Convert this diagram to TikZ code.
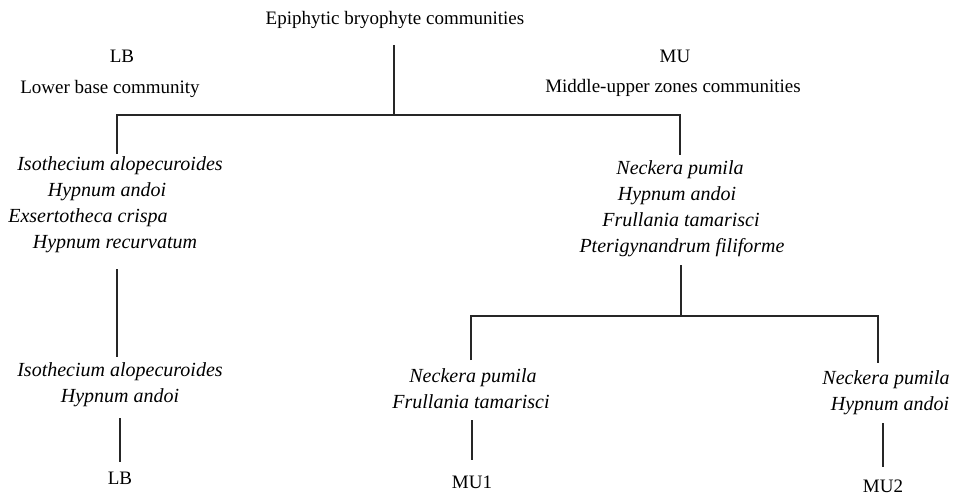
\documentclass[tikz,border=0pt]{standalone}
\usepackage{fontspec}
\setmainfont{Liberation Serif}
\begin{document}
\begin{tikzpicture}[x=1pt,y=-1pt,
  lbl/.style={inner sep=0pt,font=\fontsize{19}{23}\selectfont,text height=13pt,text depth=4pt},
  sp/.style={lbl,font=\fontsize{20}{24}\selectfont\itshape},
  conn/.style={line width=1.1pt,black!85}]
\useasboundingbox (0,0) rectangle (954,495);
% labels
\node[lbl] (root) at (395,20) {Epiphytic bryophyte communities};
\node[lbl] (lb) at (122,58) {LB};
\node[lbl] (lbname) at (110,89) {Lower base community};
\node[lbl] (mu) at (675,58) {MU};
\node[lbl] (muname) at (673,88) {Middle-upper zones communities};
% left list
\node[sp] (l1) at (120,166) {Isothecium alopecuroides};
\node[sp] (l2) at (107,192) {Hypnum andoi};
\node[sp] (l3) at (88,218) {Exsertotheca crispa};
\node[sp] (l4) at (115,244) {Hypnum recurvatum};
\node[sp] (ll1) at (120,372) {Isothecium alopecuroides};
\node[sp] (ll2) at (120,398) {Hypnum andoi};
\node[lbl] (lbend) at (120,480) {LB};
% right list
\node[sp] (r1) at (680,170) {Neckera pumila};
\node[sp] (r2) at (677,196) {Hypnum andoi};
\node[sp] (r3) at (681,222) {Frullania tamarisci};
\node[sp] (r4) at (682,248) {Pterigynandrum filiforme};
\node[sp] (a1) at (473,378) {Neckera pumila};
\node[sp] (a2) at (471,404) {Frullania tamarisci};
\node[lbl] (mu1) at (472,484) {MU1};
\node[sp] (b1) at (886,380) {Neckera pumila};
\node[sp] (b2) at (890,406) {Hypnum andoi};
\node[lbl] (mu2) at (883,488) {MU2};
% connector ends
\coordinate (rootb) at (394,45);
\coordinate (j0) at (394,115);
\coordinate (lt) at (117,154);
\coordinate (rt) at (680,155);
\coordinate (lb1) at (117,269);
\coordinate (lt2) at (117,357);
\coordinate (lb2) at (120,418);
\coordinate (lt3) at (120,462);
\coordinate (rb1) at (681,265);
\coordinate (j1) at (681,316);
\coordinate (at) at (471,360);
\coordinate (bt) at (878,363);
\coordinate (ab) at (472,420);
\coordinate (mu1t) at (472,460);
\coordinate (bb) at (883,423);
\coordinate (mu2t) at (883,467);
% connectors
\draw[conn] (rootb) -- (j0);
\draw[conn] (lt) |- (j0) -| (rt);
\draw[conn] (lb1) -- (lt2);
\draw[conn] (lb2) -- (lt3);
\draw[conn] (rb1) -- (j1);
\draw[conn] (at) |- (j1) -| (bt);
\draw[conn] (ab) -- (mu1t);
\draw[conn] (bb) -- (mu2t);
\end{tikzpicture}
\end{document}
